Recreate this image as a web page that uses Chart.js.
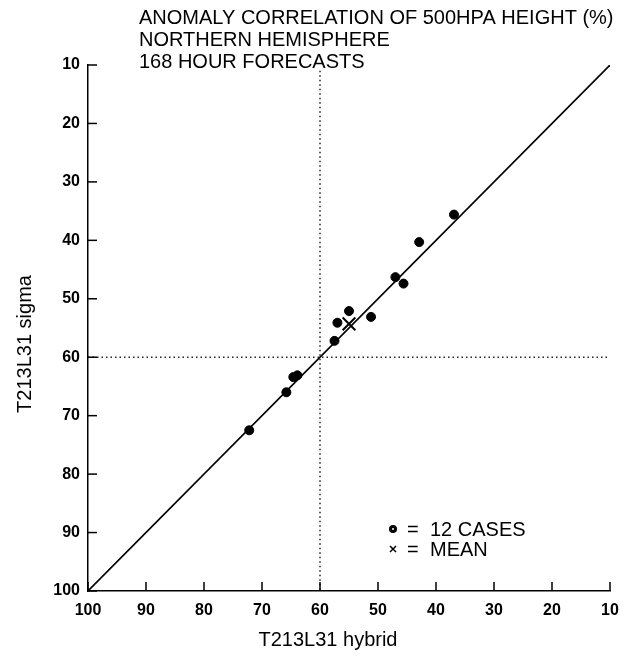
<!DOCTYPE html>
<html>
<head>
<meta charset="utf-8">
<script src="https://cdn.jsdelivr.net/npm/chart.js@4/dist/chart.umd.min.js"></script>
<style>
  body { margin: 0; background: #fff; }
  canvas { display: block; }
</style>
</head>
<body>
<canvas id="myChart" width="637" height="657"></canvas>
<script>
// anomaly correlation (%) of each case
const hybrid = [47.0, 45.6, 55.0, 57.0, 51.2, 57.5, 64.6, 63.9, 65.8, 72.2, 36.9, 42.9];
const sigma = [46.3, 47.4, 52.1, 54.1, 53.1, 57.2, 63.4, 63.1, 66.0, 72.5, 35.6, 40.3];
const meanHybrid = [55.0];
const meanSigma = [54.3];

// reference lines
const diagonal = [100, 10];
const crossValue = 60;
const crossSpan = [11, 100];

const axisMin = 10;
const axisMax = 100;

const titleLines = [
  "ANOMALY CORRELATION OF 500HPA HEIGHT (%)",
  "NORTHERN HEMISPHERE",
  "168 HOUR FORECASTS",
];
const xTitle = "T213L31 hybrid";
const yTitle = "T213L31 sigma";
const legendCases = "12 CASES";
const legendMean = "MEAN";

const font = "'Liberation Sans', Arial, sans-serif";

const toPoints = (xs, ys) => xs.map((x, i) => ({ x: x, y: ys[i] }));

// inward tick marks, titles and the small key
const decorations = {
  id: "decorations",
  afterDraw(chart) {
    const ctx = chart.ctx;
    const x = chart.scales.x;
    const y = chart.scales.y;
    const area = chart.chartArea;

    ctx.save();
    ctx.strokeStyle = "#000";
    ctx.lineWidth = 1.5;
    x.ticks.forEach((t) => {
      const px = x.getPixelForValue(t.value);
      ctx.beginPath();
      ctx.moveTo(px, area.bottom);
      ctx.lineTo(px, area.bottom - 9);
      ctx.stroke();
    });
    y.ticks.forEach((t) => {
      const py = y.getPixelForValue(t.value);
      ctx.beginPath();
      ctx.moveTo(area.left, py);
      ctx.lineTo(area.left + 9, py);
      ctx.stroke();
    });

    ctx.fillStyle = "#000";
    ctx.font = "20px " + font;
    ctx.textBaseline = "middle";
    ctx.textAlign = "left";
    titleLines.forEach((line, i) => {
      ctx.fillText(line, 139, 18 + i * 22);
    });

    ctx.textAlign = "center";
    ctx.fillText(xTitle, 328, 640);
    ctx.save();
    ctx.translate(25, 344);
    ctx.rotate(-Math.PI / 2);
    ctx.fillText(yTitle, 0, 0);
    ctx.restore();

    // key
    ctx.textAlign = "left";
    ctx.beginPath();
    ctx.arc(393, 529, 4, 0, Math.PI * 2);
    ctx.fill();
    ctx.fillStyle = "#fff";
    ctx.beginPath();
    ctx.arc(393, 529, 1, 0, Math.PI * 2);
    ctx.fill();
    ctx.fillStyle = "#000";
    ctx.fillText("=", 407, 530);
    ctx.fillText(legendCases, 430, 530);
    ctx.lineWidth = 1.5;
    ctx.beginPath();
    ctx.moveTo(390, 546);
    ctx.lineTo(396, 552);
    ctx.moveTo(396, 546);
    ctx.lineTo(390, 552);
    ctx.stroke();
    ctx.fillText("=", 407, 550);
    ctx.fillText(legendMean, 430, 550);
    ctx.restore();
  },
};

const ctx = document.getElementById("myChart");

new Chart(ctx, {
  type: "scatter",
  data: {
    datasets: [
      {
        // dotted cross at 60/60
        type: "line",
        data: toPoints([crossValue, crossValue], crossSpan),
        borderColor: "#222",
        borderWidth: 1.5,
        borderDash: [1.5, 3],
        pointRadius: 0,
      },
      {
        type: "line",
        data: toPoints(diagonal, [crossValue, crossValue]),
        borderColor: "#222",
        borderWidth: 1.5,
        borderDash: [1.5, 3],
        pointRadius: 0,
      },
      {
        type: "line",
        data: toPoints(diagonal, diagonal),
        borderColor: "#000",
        borderWidth: 1.6,
        pointRadius: 0,
      },
      {
        data: toPoints(hybrid, sigma),
        backgroundColor: "#000",
        borderColor: "#000",
        pointRadius: 4.5,
      },
      {
        data: toPoints(meanHybrid, meanSigma),
        pointStyle: "crossRot",
        borderColor: "#000",
        borderWidth: 2,
        pointRadius: 9,
      },
    ],
  },
  options: {
    responsive: false,
    animation: false,
    events: [],
    layout: {
      padding: { top: 65, right: 27, left: 0, bottom: 0 },
    },
    plugins: {
      legend: { display: false },
      tooltip: { enabled: false },
      title: { display: false },
    },
    scales: {
      x: {
        type: "linear",
        min: axisMin,
        max: axisMax,
        reverse: true,
        grid: { display: false, drawTicks: false },
        border: { display: true, color: "#000", width: 1.5 },
        ticks: {
          stepSize: 10,
          padding: 10,
          color: "#000",
          font: { family: font, size: 16, weight: "bold" },
        },
        afterFit: (scale) => {
          scale.height = 66;
        },
      },
      y: {
        type: "linear",
        min: axisMin,
        max: axisMax,
        reverse: true,
        grid: { display: false, drawTicks: false },
        border: { display: true, color: "#000", width: 1.5 },
        ticks: {
          stepSize: 10,
          padding: 8,
          color: "#000",
          font: { family: font, size: 16, weight: "bold" },
        },
        afterFit: (scale) => {
          scale.width = 88;
        },
      },
    },
  },
  plugins: [decorations],
});
</script>
</body>
</html>
